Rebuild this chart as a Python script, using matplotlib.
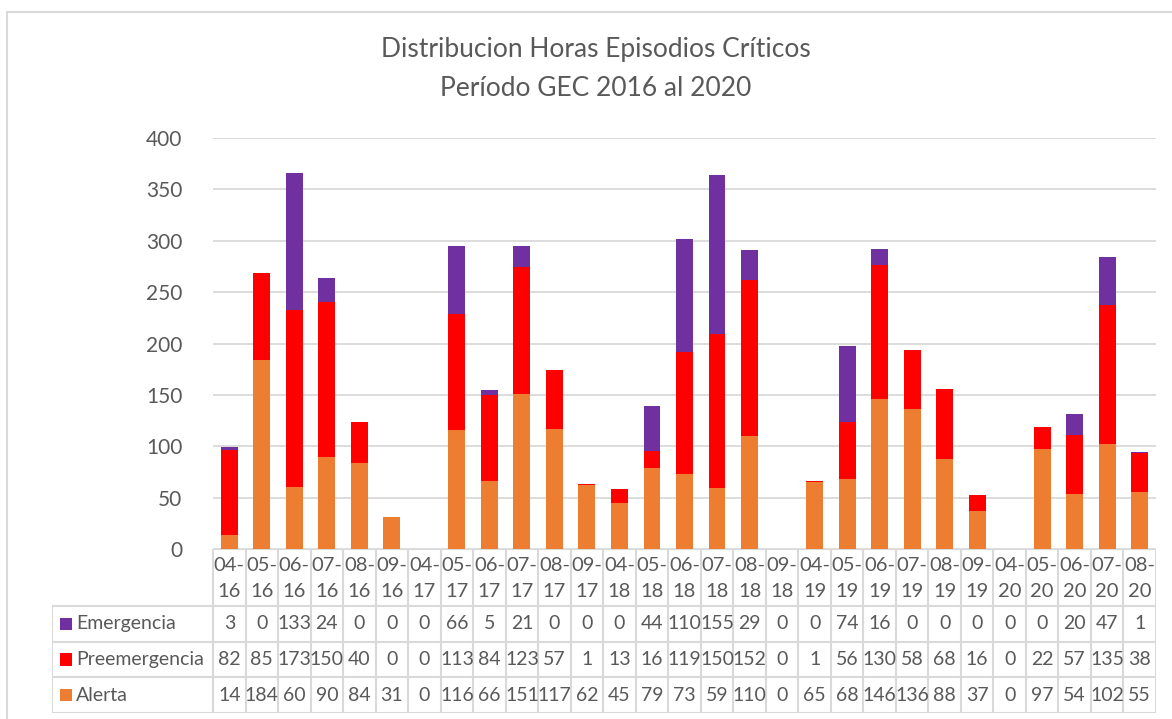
import numpy as np
import matplotlib.pyplot as plt
from matplotlib.patches import Rectangle

# categories (mes-año)
categorias = ['04-16', '05-16', '06-16', '07-16', '08-16', '09-16',
              '04-17', '05-17', '06-17', '07-17', '08-17', '09-17',
              '04-18', '05-18', '06-18', '07-18', '08-18', '09-18',
              '04-19', '05-19', '06-19', '07-19', '08-19', '09-19',
              '04-20', '05-20', '06-20', '07-20', '08-20']

alerta = [14, 184, 60, 90, 84, 31,
          0, 116, 66, 151, 117, 62,
          45, 79, 73, 59, 110, 0,
          65, 68, 146, 136, 88, 37,
          0, 97, 54, 102, 55]
preemergencia = [82, 85, 173, 150, 40, 0,
                 0, 113, 84, 123, 57, 1,
                 13, 16, 119, 150, 152, 0,
                 1, 56, 130, 58, 68, 16,
                 0, 22, 57, 135, 38]
emergencia = [3, 0, 133, 24, 0, 0,
              0, 66, 5, 21, 0, 0,
              0, 44, 110, 155, 29, 0,
              0, 74, 16, 0, 0, 0,
              0, 0, 20, 47, 1]

series = [('Emergencia', emergencia, '#7030A0'),
          ('Preemergencia', preemergencia, '#FF0000'),
          ('Alerta', alerta, '#ED7D31')]

plt.rcParams['font.family'] = ['Lato', 'DejaVu Sans']
txt = '#595959'
grid = '#D9D9D9'

W, H = 1172, 719
fig = plt.figure(figsize=(W / 100, H / 100), dpi=100)

# chart border
fig.patches.append(Rectangle((7 / W, -0.01), 1.05, (H - 12) / H + 0.01,
                             transform=fig.transFigure, fill=False,
                             edgecolor=grid, lw=1.5))

x = np.arange(len(categorias))
n = len(categorias)

# main bars
ax = fig.add_axes([213 / W, (H - 549) / H, (1156 - 213) / W, (549 - 138) / H])
bottom = np.zeros(n)
for name, vals, col in [series[2], series[1], series[0]]:
    ax.bar(x, vals, 0.52, bottom=bottom, color=col, label=name, zorder=3)
    bottom += np.array(vals)
ax.set_xlim(-0.5, n - 0.5)
ax.set_ylim(0, 400)
ax.set_yticks(range(0, 401, 50))
ax.yaxis.grid(True, color=grid, lw=1.3, zorder=0)
ax.tick_params(axis='y', length=0, labelsize=15, labelcolor=txt, pad=22)
ax.set_xticks([])
for s in ax.spines.values():
    s.set_visible(False)

fig.text(596 / W, (H - 50) / H, 'Distribucion Horas Episodios Críticos',
         ha='center', va='center', fontsize=19, color=txt)
fig.text(596 / W, (H - 88) / H, 'Período GEC 2016 al 2020',
         ha='center', va='center', fontsize=19, color=txt)

# data table below
lab_w = (213 - 52) / 32.5
tb = fig.add_axes([52 / W, (H - 713) / H, (1156 - 52) / W, (713 - 549) / H])
tb.set_xlim(-0.5 - lab_w, n - 0.5)
tb.set_ylim(0, 4.6)
tb.axis('off')
lc = dict(color=grid, lw=1.5, solid_capstyle='projecting')

# header row
for i, c in enumerate(categorias):
    m, a = c.split('-')
    tb.text(i, 4.15, m + '-', ha='center', va='center', fontsize=14.5, color=txt)
    tb.text(i, 3.42, a, ha='center', va='center', fontsize=14.5, color=txt)
for k in range(n + 1):
    tb.plot([k - 0.5, k - 0.5], [0, 4.6], **lc)
tb.plot([-0.5, n - 0.5], [4.6, 4.6], **lc)
for yy in [0, 1, 2, 3]:
    tb.plot([-0.5 - lab_w, n - 0.5], [yy, yy], **lc)
tb.plot([-0.5 - lab_w, -0.5 - lab_w], [0, 3], **lc)

# value rows
for r, (name, vals, col) in enumerate(series):
    yc = 2.5 - r
    tb.add_patch(Rectangle((-0.5 - lab_w + 0.25, yc - 0.17), 0.37, 0.34,
                           color=col, lw=0))
    tb.text(-0.5 - lab_w + 0.75, yc, name, ha='left', va='center',
            fontsize=14, color=txt)
    for i, v in enumerate(vals):
        tb.text(i, yc, str(v), ha='center', va='center', fontsize=14, color=txt)

fig.savefig('out.png', dpi=100)
